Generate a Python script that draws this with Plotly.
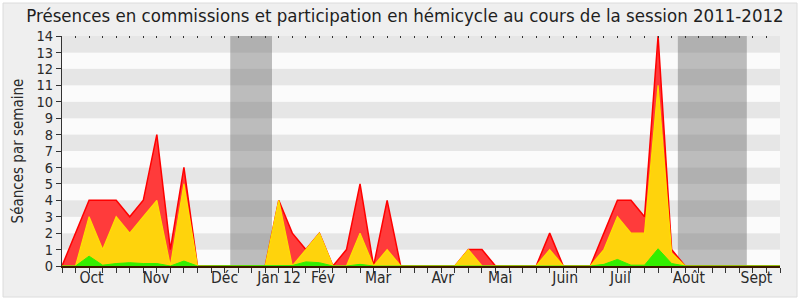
import plotly.graph_objects as go

# ---- data (weekly, week index 0..53) ----
weeks = list(range(54))
red = [0, 2, 4, 4, 4, 3, 4, 8, 1, 6,
       0, 0, 0, 0, 0, 0, 4, 2, 1, 2,
       0, 1, 5, 0, 4, 0, 0, 0, 0, 0,
       1, 1, 0, 0, 0, 0, 2, 0, 0, 0,
       2, 4, 4, 3, 14, 1, 0, 0, 0, 0,
       0, 0, 0, 0]
yellow = [0, 0, 3, 1, 3, 2, 3, 4, 0, 5,
          0, 0, 0, 0, 0, 0, 4, 0, 1, 2,
          0, 0, 2, 0, 1, 0, 0, 0, 0, 0,
          1, 0, 0, 0, 0, 0, 1, 0, 0, 0,
          1, 3, 2, 2, 11, 0.8, 0, 0, 0, 0,
          0, 0, 0, 0]
green = [0, 0, 0.6, 0.05, 0.15, 0.2, 0.15, 0.15, 0, 0.3,
         0, 0, 0, 0, 0, 0, 0, 0.03, 0.25, 0.2,
         0, 0, 0.1, 0, 0, 0, 0, 0, 0, 0,
         0, 0, 0, 0, 0, 0, 0.03, 0, 0, 0,
         0.1, 0.4, 0.05, 0.05, 1.05, 0.15, 0, 0, 0, 0,
         0, 0, 0, 0]
month_labels = ["Oct", "Nov", "Déc", "Jan 12", "Fév", "Mar", "Avr", "Mai",
                "Juin", "Juil", "Août", "Sept"]
month_pos = [2.18, 6.94, 12.0, 16.02, 19.27, 23.34, 28.1, 32.35,
             37.14, 41.22, 46.27, 51.26]
holidays = [(12.42, 15.5), (45.46, 50.55)]
y_ticks = list(range(15))

FONT = "DejaVu Sans Condensed, DejaVu Sans, sans-serif"
TXT = "#2a2a2a"

# plot area in pixels
L, R, T, B = 62, 780, 36, 266
W, H = 800, 300

def px_x(X):
    return (X - L) / (R - L)

def px_y(Y):
    return (B - Y) / (B - T)

fig = go.Figure()

fig.add_trace(go.Scatter(x=weeks, y=red, mode="lines", fill="tozeroy",
                         line=dict(color="#ff0000", width=1.5),
                         fillcolor="#ff3b3b", hoverinfo="skip", showlegend=False))
fig.add_trace(go.Scatter(x=weeks, y=yellow, mode="lines", fill="tozeroy",
                         line=dict(color="#ffe000", width=1.2),
                         fillcolor="#ffd30c", hoverinfo="skip", showlegend=False))
fig.add_trace(go.Scatter(x=weeks, y=green, mode="lines", fill="tozeroy",
                         line=dict(color="#33ee00", width=1),
                         fillcolor="#33ee00", hoverinfo="skip", showlegend=False))

shapes = []
# outer panel
x0, x1 = px_x(3), px_x(797)
y0, y1 = px_y(297), px_y(3)
shapes.append(dict(type="rect", xref="paper", yref="paper", x0=x0, x1=x1, y0=y0, y1=y1,
                   fillcolor="#efefef", line=dict(color="#dcdcdc", width=1), layer="below"))
# horizontal bands
for k in range(14):
    shapes.append(dict(type="rect", xref="paper", yref="y", x0=0, x1=1, y0=k, y1=k + 1,
                       fillcolor="#e6e6e6" if k % 2 == 1 else "#fbfbfb",
                       line=dict(width=0), layer="below"))
# holiday shading
for a, b in holidays:
    shapes.append(dict(type="rect", xref="x", yref="paper", x0=a, x1=b, y0=0, y1=1,
                       fillcolor="rgba(104,104,104,0.43)", line=dict(width=0), layer="below"))

fig.update_layout(
    width=W, height=H,
    margin=dict(l=L, r=W - R, t=T, b=H - B),
    paper_bgcolor="white",
    plot_bgcolor="rgba(0,0,0,0)",
    shapes=shapes,
    title=dict(text="Présences en commissions et participation en hémicycle au cours de la session 2011-2012",
               x=405 / W, xanchor="center", y=1 - 16 / H, yanchor="middle",
               font=dict(family=FONT, size=18.5, color="#1e1e1e")),
    font=dict(family=FONT, size=15, color=TXT),
    xaxis=dict(range=[0, 53], tickmode="array", tickvals=weeks, ticktext=[""] * len(weeks),
               ticks="outside", ticklen=5, tickcolor="#333333", showgrid=False, zeroline=False,
               showline=True, linecolor="#3a1a00", linewidth=1.5, fixedrange=True),
    xaxis2=dict(range=[0, 53], overlaying="x", side="bottom", tickmode="array",
                tickvals=month_pos, ticktext=month_labels, ticks="", showgrid=False,
                zeroline=False, showline=False, fixedrange=True,
                tickfont=dict(family=FONT, size=15.5, color=TXT)),
    xaxis3=dict(range=[0, 53], overlaying="x", side="top", tickmode="array",
                tickvals=weeks, ticktext=[""] * len(weeks), ticks="inside", ticklen=2,
                tickcolor="#333333", showgrid=False, zeroline=False, showline=False,
                fixedrange=True),
    yaxis=dict(range=[0, 14], tickmode="array", tickvals=y_ticks, ticks="outside", ticklen=5,
               tickcolor="#333333", showgrid=False, zeroline=False, showline=True,
               linecolor="#333333", linewidth=1,
               title=dict(text="Séances par semaine", standoff=9,
                          font=dict(family=FONT, size=15, color=TXT)),
               tickfont=dict(family=FONT, size=14.5, color=TXT), fixedrange=True),
)

# invisible traces to activate overlay axes
fig.add_trace(go.Scatter(x=[0], y=[0], xaxis="x2", mode="markers", marker=dict(opacity=0),
                         hoverinfo="skip", showlegend=False))
fig.add_trace(go.Scatter(x=[0], y=[0], xaxis="x3", mode="markers", marker=dict(opacity=0),
                         hoverinfo="skip", showlegend=False))

fig.write_html("out.html")
